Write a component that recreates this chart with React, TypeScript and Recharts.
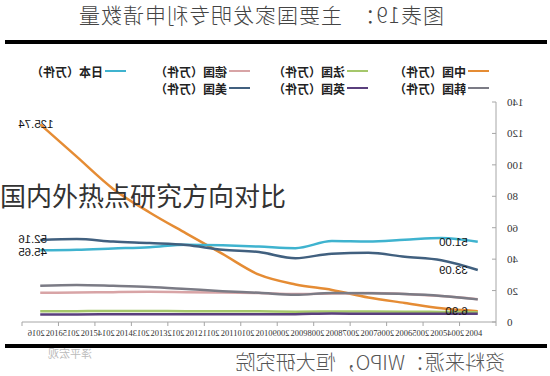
import { LineChart, Line, XAxis, YAxis, LabelList } from "recharts";

// 2004 → 2016, values in 万件
const years = ["2004", "2005", "2006", "2007", "2008", "2009", "2010", "2011", "2012", "2013", "2014", "2015", "2016"];
const china = [6.9, 8.7, 12.1, 15.6, 20.4, 23.9, 30.1, 43.3, 56.4, 69.7, 84.7, 105.2, 125.74];
const france = [6.2, 6.4, 6.6, 6.7, 6.7, 6.6, 6.8, 6.9, 6.9, 7.0, 7.0, 6.9, 6.8];
const germany = [14.5, 16.5, 17.8, 18.4, 18.2, 17.8, 18.4, 18.8, 19.0, 19.2, 19.0, 18.7, 18.6];
const japan = [51.0, 53.4, 52.3, 51.2, 51.5, 47.0, 48.0, 48.8, 49.2, 47.6, 46.8, 46.0, 45.65];
const korea = [14.4, 16.6, 17.8, 18.3, 18.5, 17.3, 18.6, 19.6, 21.0, 22.3, 23.0, 23.5, 23.0];
const uk = [5.3, 5.3, 5.2, 5.2, 5.4, 5.0, 4.9, 4.9, 5.0, 5.0, 4.9, 4.8, 4.8];
const usa = [33.09, 39.3, 41.5, 44.0, 43.5, 40.6, 44.5, 46.0, 49.0, 50.2, 51.2, 52.8, 52.16];
const yTicks = [0, 20, 40, 60, 80, 100, 120, 140];

// nudge: vertical shift of the end labels so the 2016 pair does not collide
const SERIES = [
  { key: "china", name: "中国（万件）", color: "#e58c34", labels: true, nudge: 0 },
  { key: "france", name: "法国（万件）", color: "#a5c76b", labels: false, nudge: 0 },
  { key: "germany", name: "德国（万件）", color: "#d8a4a6", labels: false, nudge: 0 },
  { key: "japan", name: "日本（万件）", color: "#3fb3cf", labels: true, nudge: 1.5 },
  { key: "korea", name: "韩国（万件）", color: "#7b7b85", labels: false, nudge: 0 },
  { key: "uk", name: "英国（万件）", color: "#5a3f7d", labels: false, nudge: 0 },
  { key: "usa", name: "美国（万件）", color: "#41607f", labels: true, nudge: -1.5 },
];

const data = years.map((year, i) => ({
  year,
  china: china[i],
  france: france[i],
  germany: germany[i],
  japan: japan[i],
  korea: korea[i],
  uk: uk[i],
  usa: usa[i],
}));

const LAST = years.length - 1;
const HALF_BAND = 474 / 13 / 2;
const serif = "'Liberation Serif', 'DejaVu Serif', serif";
const cjk = "'Noto Sans CJK SC', sans-serif";

function EndLabel(props: any) {
  const { x, y, value, index, nudge } = props;
  if (index !== 0 && index !== LAST) return null;
  const first = index === 0;
  return (
    <text
      x={first ? x + 10 : x + 22}
      y={first ? y : y + nudge}
      textAnchor={first ? "start" : "end"}
      dominantBaseline="central"
      fontSize={11.5}
      fontFamily="'Liberation Sans', Arial, sans-serif"
      fill="#111"
    >
      {Number(value).toFixed(2)}
    </text>
  );
}

function YearTick(props: any) {
  const { x, y, payload, index } = props;
  const shift = 1.5 * (LAST - index);
  return (
    <g>
      <line x1={x - HALF_BAND} x2={x - HALF_BAND} y1={y} y2={y + 4} stroke="#a6a6a6" />
      {index === LAST && (
        <line x1={x + HALF_BAND} x2={x + HALF_BAND} y1={y} y2={y + 4} stroke="#a6a6a6" />
      )}
      <text x={x + 4 + shift} y={y + 14} textAnchor="middle" fontSize={8.5} fontFamily={serif} fill="#333">
        {payload.value}
      </text>
      <g transform={`translate(${x - 14 + shift},${y + 14}) scale(-1,1)`}>
        <text x={0} y={0} textAnchor="middle" fontSize={8.5} fontFamily={serif} fill="#333">
          {payload.value}
        </text>
      </g>
    </g>
  );
}

function ValueTick(props: any) {
  const { x, y, payload } = props;
  return (
    <g>
      <line x1={x + 11} x2={x + 15} y1={y} y2={y} stroke="#a6a6a6" />
      <text x={x} y={y} textAnchor="end" dominantBaseline="central" fontSize={11} fontFamily={serif} fill="#333">
        {payload.value}
      </text>
    </g>
  );
}

const LEGEND_COLS = [61, 182, 300, 424];

function LegendBlock() {
  return (
    <>
      {SERIES.map((s, i) => {
        const row = i < 4 ? 0 : 1;
        const col = i < 4 ? i : i - 4;
        return (
          <div
            key={s.key}
            style={{
              position: "absolute",
              left: LEGEND_COLS[col],
              top: row === 0 ? 63 : 80,
              height: 16,
              display: "flex",
              alignItems: "center",
              whiteSpace: "nowrap",
            }}
          >
            <span style={{ display: "inline-block", width: 21, height: 2, background: s.color, marginRight: 2 }} />
            <span style={{ fontFamily: cjk, fontSize: 12, fontWeight: 700, color: "#222" }}>{s.name}</span>
          </div>
        );
      })}
    </>
  );
}

export default function App() {
  return (
    <div style={{ position: "absolute", left: 0, top: 0, width: 550, height: 376, background: "#fff", overflow: "hidden" }}>
      <div style={{ position: "absolute", left: 0, top: 0, width: 550, height: 376, transform: "scaleX(-1)" }}>
        <div
          style={{
            position: "absolute",
            left: 106,
            top: 0,
            fontFamily: cjk,
            fontSize: 21,
            fontWeight: 300,
            color: "#444",
            whiteSpace: "nowrap",
            lineHeight: "28px",
            letterSpacing: 1,
          }}
        >
          图表19：　主要国家发明专利申请数量
        </div>
        <div style={{ position: "absolute", left: 3, top: 40, width: 542, height: 4, background: "#000" }} />
        <LineChart
          width={550}
          height={376}
          data={data}
          margin={{ top: 102, right: 22, bottom: 34, left: 0 }}
        >
          <XAxis
            dataKey="year"
            interval={0}
            padding={{ left: HALF_BAND, right: HALF_BAND }}
            tickLine={false}
            tickSize={0}
            tickMargin={0}
            height={20}
            stroke="#a6a6a6"
            tick={<YearTick />}
          />
          <YAxis
            domain={[0, 140]}
            ticks={yTicks}
            width={54}
            tickLine={false}
            tickSize={0}
            tickMargin={11}
            stroke="#a6a6a6"
            tick={<ValueTick />}
          />
          {SERIES.map((s) => (
            <Line
              key={s.key}
              type="monotone"
              dataKey={s.key}
              stroke={s.color}
              strokeWidth={2.5}
              dot={false}
              isAnimationActive={false}
            >
              {s.labels && <LabelList dataKey={s.key} content={<EndLabel nudge={s.nudge} />} />}
            </Line>
          ))}
        </LineChart>
        <LegendBlock />
        <div style={{ position: "absolute", left: 3, top: 344, width: 542, height: 4, background: "#000" }} />
        <div
          style={{
            position: "absolute",
            left: 45,
            top: 349,
            fontFamily: cjk,
            fontSize: 20,
            fontWeight: 300,
            color: "#555",
            whiteSpace: "nowrap",
            lineHeight: "26px",
          }}
        >
          资料来源：WIPO，恒大研究院
        </div>
        <div
          style={{
            position: "absolute",
            left: 458,
            top: 345,
            fontFamily: cjk,
            fontSize: 11,
            color: "#bbb",
            whiteSpace: "nowrap",
          }}
        >
          泽平宏观
        </div>
      </div>
      <div
        style={{
          position: "absolute",
          left: 0,
          top: 178,
          fontFamily: cjk,
          fontSize: 26,
          color: "#333",
          whiteSpace: "nowrap",
          lineHeight: "34px",
        }}
      >
        国内外热点研究方向对比
      </div>
    </div>
  );
}
